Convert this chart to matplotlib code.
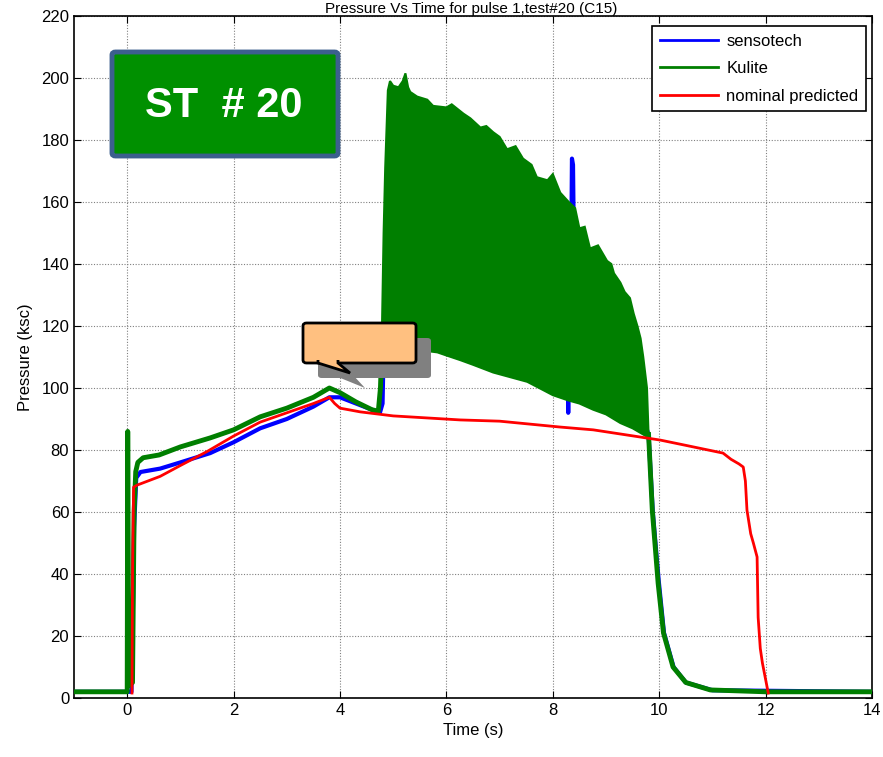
import numpy as np
import matplotlib.pyplot as plt
from matplotlib.patches import FancyBboxPatch, Polygon

plt.rcParams['font.family'] = ['Liberation Sans', 'DejaVu Sans']
plt.rcParams['font.size'] = 12

# sensotech trace (blue)
senso_t = [-1.0, 0.08, 0.1, 0.13, 0.17, 0.25, 0.62, 1.0, 1.56, 2.0, 2.5, 3.0, 3.5, 3.8, 4.0,
           4.3, 4.6, 4.75, 4.8, 4.84, 5.5, 6.5, 7.5, 8.2, 8.28, 8.29, 8.3, 8.34, 8.36, 8.38, 8.40,
           8.42, 8.9, 9.5, 9.8, 9.88, 9.99, 10.09, 10.27, 10.5, 11.0, 14.0]
senso_p = [2.0, 2.0, 20.0, 55.0, 71.0, 72.9, 74.0, 76.0, 79.0, 82.5, 87.0, 90.0, 94.0, 97.0, 97.0,
           95.0, 93.0, 92.0, 95.0, 130.0, 150.0, 145.0, 135.0, 125.0, 120.0, 92.0, 120.0, 130.0, 174.0, 172.0, 140.0,
           125.0, 110.0, 100.0, 85.0, 60.0, 38.0, 21.0, 10.0, 5.0, 2.5, 2.0]

# Kulite trace (green), outside the oscillating burn phase
kul_t = [-1.0, 0.0, 0.01, 0.03, 0.1, 0.13, 0.16, 0.2, 0.3, 0.6, 1.0, 1.56, 2.0, 2.5, 3.0,
         3.5, 3.8, 4.0, 4.3, 4.6, 4.72, 4.76, 4.78]
kul_p = [2.0, 2.0, 86.0, 4.0, 5.0, 60.0, 73.0, 76.0, 77.5, 78.4, 81.0, 83.9, 86.5, 90.7, 93.5,
         97.0, 100.0, 98.5, 95.5, 93.0, 92.5, 100.0, 110.0]
kul_tail_t = [9.8, 9.87, 9.98, 10.08, 10.26, 10.5, 10.96, 12.0, 14.0]
kul_tail_p = [85.0, 60.6, 37.0, 21.0, 10.0, 5.0, 2.6, 2.0, 2.0]

# Kulite oscillation envelope during burn
band_up_t = [4.78, 4.82, 4.85, 4.9, 4.94, 5.0, 5.1, 5.18, 5.23, 5.28, 5.32, 5.45, 5.64, 5.75, 6.0,
             6.1, 6.32, 6.45, 6.64, 6.75, 6.88, 7.0, 7.14, 7.3, 7.44, 7.6, 7.7, 7.9, 8.0, 8.14, 8.3,
             8.42, 8.5, 8.6, 8.7, 8.85, 9.02, 9.1, 9.15, 9.27, 9.35, 9.45, 9.52, 9.59, 9.65, 9.7,
             9.77, 9.8]
band_up_p = [110.0, 150.0, 171.0, 196.0, 199.0, 197.5, 197.0, 199.0, 201.5, 197.0, 195.5, 194.0, 193.0, 191.0, 190.5,
             191.5, 188.5, 187.0, 184.0, 184.5, 182.5, 181.0, 177.0, 178.0, 174.0, 172.0, 168.0, 167.0, 169.0, 163.0, 160.0,
             158.0, 151.5, 152.0, 145.0, 146.0, 141.0, 140.0, 137.0, 134.0, 131.0, 129.0, 124.0, 120.0, 116.0, 110.0,
             100.0, 85.0]
band_lo_t = [4.78, 4.85, 5.2, 5.6, 5.83, 6.0, 6.26, 6.5, 6.88, 7.2, 7.52, 7.8, 8.0, 8.29, 8.5, 8.76,
             9.0, 9.27, 9.5, 9.7, 9.8]
band_lo_p = [100.0, 116.0, 114.0, 112.0, 111.5, 110.5, 109.0, 107.5, 105.0, 103.5, 102.0, 99.5, 97.7, 96.0, 95.0, 93.0,
             91.5, 88.7, 87.0, 85.0, 84.0]

# nominal predicted curve (red)
nom_t = [0.09, 0.1, 0.12, 0.19, 0.62, 1.0, 1.5, 2.0, 2.5, 3.0, 3.5, 3.8, 3.9, 4.0, 4.38,
         5.0, 6.26, 7.0, 8.14, 8.76, 10.02, 10.5, 11.2, 11.35, 11.5, 11.58, 11.62, 11.65, 11.72, 11.77,
         11.84, 11.86, 11.9, 11.94, 12.05]
nom_p = [1.6, 40.0, 68.0, 68.7, 71.5, 75.0, 79.5, 84.5, 89.0, 92.0, 95.0, 97.0, 95.0, 93.5, 92.3,
         91.0, 89.7, 89.3, 87.4, 86.5, 83.2, 81.5, 79.0, 77.0, 75.5, 74.5, 70.0, 60.6, 53.0, 50.0,
         45.5, 26.0, 16.0, 11.3, 1.6]

W, H = 883, 757


def fx(px):
    return px / W


def fy(py):
    return 1 - py / H


fig = plt.figure(figsize=(W / 100, H / 100), dpi=100)
ax = fig.add_axes([fx(74), fy(698), fx(872) - fx(74), fy(16) - fy(698)])

ax.plot(senso_t, senso_p, color='#0000ff', lw=3, label='sensotech', zorder=2)
ax.plot(kul_t, kul_p, color='#007f00', lw=3.5, label='Kulite', zorder=3)
ax.plot(kul_tail_t, kul_tail_p, color='#007f00', lw=3.5, zorder=3)
ax.fill(np.r_[band_up_t, band_lo_t[::-1]], np.r_[band_up_p, band_lo_p[::-1]],
        color='#007f00', lw=1.5, zorder=3)
ax.plot(nom_t, nom_p, color='#ff0000', lw=2, label='nominal predicted', zorder=4)

ax.set_xlim(-1, 14)
ax.set_ylim(0, 220)
ax.set_xticks(np.arange(0, 15, 2))
ax.set_yticks(np.arange(0, 221, 20))
ax.tick_params(direction='in', top=True, right=True, length=5, labelsize=12)
ax.grid(True, color='#808080', ls=(0, (1, 1.5)), lw=0.8)
ax.set_axisbelow(True)
for s in ax.spines.values():
    s.set_linewidth(1.2)

ax.set_xlabel('Time (s)', fontsize=12, labelpad=4)
ax.set_ylabel('Pressure (ksc)', fontsize=12, labelpad=6)

leg = ax.legend(loc='upper right', bbox_to_anchor=(fx(866 - 74) / (fx(872) - fx(74)), 1 - 10 / 682),
                fancybox=False, edgecolor='black', framealpha=1, fontsize=12,
                handlelength=3.5, labelspacing=0.75, borderpad=0.45, borderaxespad=0,
                handletextpad=0.5)
leg.get_frame().set_linewidth(1.2)
for ln in leg.get_lines():
    ln.set_linewidth(2)

fig.text(fx(471), fy(13), 'Pressure Vs Time for pulse 1,test#20 (C15)', ha='center',
         va='baseline', fontsize=11)

# test label box
fig.patches.append(FancyBboxPatch((fx(112), fy(156)), fx(338) - fx(112), fy(52) - fy(156),
                                  boxstyle='round,pad=0,rounding_size=0.004',
                                  transform=fig.transFigure, facecolor='#009000',
                                  edgecolor='#3c5f8e', lw=3.5, zorder=5))
fig.text(fx(224), fy(106), 'ST  # 20', ha='center', va='center', color='white',
         fontsize=30, fontweight='bold', zorder=6)

# callout with shadow
sx, sy = 15, 15
fig.patches.append(FancyBboxPatch((fx(303 + sx), fy(363 + sy)), fx(113), 40 / H,
                                  boxstyle='round,pad=0,rounding_size=0.004',
                                  transform=fig.transFigure, facecolor='#808080',
                                  edgecolor='none', zorder=5))
fig.patches.append(Polygon([(fx(318 + sx), fy(360 + sy)), (fx(350 + sx), fy(373 + sy)),
                            (fx(338 + sx), fy(360 + sy))], closed=True,
                           transform=fig.transFigure, facecolor='#808080',
                           edgecolor='none', zorder=5))
fig.patches.append(FancyBboxPatch((fx(303), fy(363)), fx(113), 40 / H,
                                  boxstyle='round,pad=0,rounding_size=0.004',
                                  transform=fig.transFigure, facecolor='#ffc080',
                                  edgecolor='black', lw=2, zorder=6))
fig.patches.append(Polygon([(fx(318), fy(360)), (fx(318), fy(363)), (fx(350), fy(373)),
                            (fx(338), fy(363)), (fx(338), fy(360))], closed=False,
                           transform=fig.transFigure, facecolor='#ffc080',
                           edgecolor='black', lw=2, zorder=7))

fig.savefig('out.png', dpi=100)
